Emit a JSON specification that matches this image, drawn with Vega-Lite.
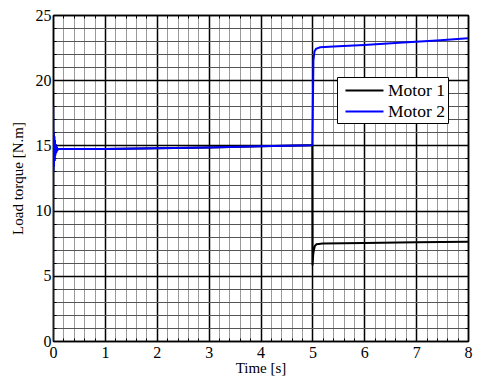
{
  "$schema": "https://vega.github.io/schema/vega-lite/v6.json",
  "width": 415,
  "height": 326,
  "autosize": {"type": "none"},
  "padding": {"left": 53, "top": 15, "right": 10, "bottom": 44},
  "background": "white",
  "config": {
    "font": "Liberation Serif",
    "view": {"stroke": null},
    "axis": {
      "labelFont": "Liberation Serif",
      "labelFontSize": 16,
      "labelColor": "black",
      "titleFont": "Liberation Serif",
      "titleFontSize": 15,
      "titleFontWeight": "normal",
      "titleColor": "black",
      "domainColor": "black",
      "domainWidth": 1.5,
      "tickColor": "black",
      "tickWidth": 1,
      "labelOverlap": false,
      "labelFlush": false
    },
    "legend": {
      "labelFont": "Liberation Serif"
    }
  },
  "data": {
    "values": [
      {"t": 0, "torque": 0, "motor": "Motor 1"},
      {"t": 0.002, "torque": 18.0, "motor": "Motor 1"},
      {"t": 0.006, "torque": 13.0, "motor": "Motor 1"},
      {"t": 0.012, "torque": 16.0, "motor": "Motor 1"},
      {"t": 0.018, "torque": 13.4, "motor": "Motor 1"},
      {"t": 0.024, "torque": 15.7, "motor": "Motor 1"},
      {"t": 0.03, "torque": 13.8, "motor": "Motor 1"},
      {"t": 0.036, "torque": 15.4, "motor": "Motor 1"},
      {"t": 0.042, "torque": 14.2, "motor": "Motor 1"},
      {"t": 0.05, "torque": 15.1, "motor": "Motor 1"},
      {"t": 0.06, "torque": 14.4, "motor": "Motor 1"},
      {"t": 0.07, "torque": 14.9, "motor": "Motor 1"},
      {"t": 0.085, "torque": 14.65, "motor": "Motor 1"},
      {"t": 0.1, "torque": 14.72, "motor": "Motor 1"},
      {"t": 1, "torque": 14.73, "motor": "Motor 1"},
      {"t": 2, "torque": 14.78, "motor": "Motor 1"},
      {"t": 3, "torque": 14.84, "motor": "Motor 1"},
      {"t": 4, "torque": 14.93, "motor": "Motor 1"},
      {"t": 4.98, "torque": 15.02, "motor": "Motor 1"},
      {"t": 5.0, "torque": 15.0, "motor": "Motor 1"},
      {"t": 5.003, "torque": 5.8, "motor": "Motor 1"},
      {"t": 5.015, "torque": 6.6, "motor": "Motor 1"},
      {"t": 5.03, "torque": 7.0, "motor": "Motor 1"},
      {"t": 5.05, "torque": 7.3, "motor": "Motor 1"},
      {"t": 5.08, "torque": 7.42, "motor": "Motor 1"},
      {"t": 5.2, "torque": 7.47, "motor": "Motor 1"},
      {"t": 6, "torque": 7.52, "motor": "Motor 1"},
      {"t": 7, "torque": 7.57, "motor": "Motor 1"},
      {"t": 8, "torque": 7.62, "motor": "Motor 1"},
      {"t": 0, "torque": 0, "motor": "Motor 2"},
      {"t": 0.002, "torque": 18.0, "motor": "Motor 2"},
      {"t": 0.006, "torque": 13.0, "motor": "Motor 2"},
      {"t": 0.012, "torque": 16.0, "motor": "Motor 2"},
      {"t": 0.018, "torque": 13.4, "motor": "Motor 2"},
      {"t": 0.024, "torque": 15.7, "motor": "Motor 2"},
      {"t": 0.03, "torque": 13.8, "motor": "Motor 2"},
      {"t": 0.036, "torque": 15.4, "motor": "Motor 2"},
      {"t": 0.042, "torque": 14.2, "motor": "Motor 2"},
      {"t": 0.05, "torque": 15.1, "motor": "Motor 2"},
      {"t": 0.06, "torque": 14.4, "motor": "Motor 2"},
      {"t": 0.07, "torque": 14.9, "motor": "Motor 2"},
      {"t": 0.085, "torque": 14.65, "motor": "Motor 2"},
      {"t": 0.1, "torque": 14.72, "motor": "Motor 2"},
      {"t": 1, "torque": 14.73, "motor": "Motor 2"},
      {"t": 2, "torque": 14.78, "motor": "Motor 2"},
      {"t": 3, "torque": 14.84, "motor": "Motor 2"},
      {"t": 4, "torque": 14.93, "motor": "Motor 2"},
      {"t": 4.98, "torque": 15.02, "motor": "Motor 2"},
      {"t": 5.0, "torque": 15.05, "motor": "Motor 2"},
      {"t": 5.02, "torque": 21.5, "motor": "Motor 2"},
      {"t": 5.04, "torque": 22.2, "motor": "Motor 2"},
      {"t": 5.07, "torque": 22.4, "motor": "Motor 2"},
      {"t": 5.15, "torque": 22.52, "motor": "Motor 2"},
      {"t": 5.5, "torque": 22.6, "motor": "Motor 2"},
      {"t": 6, "torque": 22.7, "motor": "Motor 2"},
      {"t": 6.75, "torque": 22.9, "motor": "Motor 2"},
      {"t": 7.4, "torque": 23.05, "motor": "Motor 2"},
      {"t": 8, "torque": 23.22, "motor": "Motor 2"}
    ]
  },
  "layer": [
    {
      "mark": {"type": "line", "strokeWidth": 2, "clip": true},
      "encoding": {
        "x": {
          "field": "t",
          "type": "quantitative",
          "scale": {"domain": [0, 8], "nice": false, "zero": false},
          "axis": {
            "title": "Time [s]",
            "titlePadding": 0,
            "labelFont": "Liberation Serif",
            "labelFontSize": 16,
            "values": [0, 0.2, 0.4, 0.6, 0.8, 1, 1.2, 1.4, 1.6, 1.8, 2, 2.2, 2.4, 2.6, 2.8, 3, 3.2, 3.4, 3.6, 3.8, 4, 4.2, 4.4, 4.6, 4.8, 5, 5.2, 5.4, 5.6, 5.8, 6, 6.2, 6.4, 6.6, 6.8, 7, 7.2, 7.4, 7.6, 7.8, 8],
            "labelExpr": "datum.value % 1 === 0 ? format(datum.value, 'd') : ''",
            "grid": true,
            "gridColor": {"expr": "datum.value % 1 === 0 ? '#000000' : '#9a9a9a'"},
            "gridWidth": {"expr": "datum.value % 1 === 0 ? 1.5 : 1"},
            "tickSize": -3,
            "labelPadding": 6
          }
        },
        "y": {
          "field": "torque",
          "type": "quantitative",
          "scale": {"domain": [0, 25], "nice": false},
          "axis": {
            "title": "Load torque [N.m]",
            "titlePadding": 10,
            "labelFont": "Liberation Serif",
            "labelFontSize": 16,
            "values": [0, 1, 2, 3, 4, 5, 6, 7, 8, 9, 10, 11, 12, 13, 14, 15, 16, 17, 18, 19, 20, 21, 22, 23, 24, 25],
            "labelExpr": "datum.value % 5 === 0 ? format(datum.value, 'd') : ''",
            "grid": true,
            "gridColor": {"expr": "datum.value % 5 === 0 ? '#000000' : '#555555'"},
            "gridWidth": {"expr": "datum.value % 5 === 0 ? 1.5 : 1"},
            "tickSize": -3,
            "labelPadding": 5
          }
        },
        "color": {
          "field": "motor",
          "type": "nominal",
          "scale": {"domain": ["Motor 1", "Motor 2"], "range": ["#000000", "#0000ff"]},
          "legend": {
            "title": null,
            "orient": "none",
            "legendX": 284,
            "legendY": 62,
            "direction": "vertical",
            "fillColor": "white",
            "strokeColor": "black",
            "padding": 3,
            "symbolType": "M-0.53,0H3.47",
            "symbolSize": 361,
            "symbolStrokeWidth": 2,
            "labelFont": "Liberation Serif",
            "labelFontSize": 17.5,
            "labelColor": "black",
            "labelOffset": 27,
            "labelExpr": "datum.label + ' '",
            "rowPadding": 2
          }
        }
      }
    },
    {
      "mark": {"type": "point", "opacity": 0},
      "encoding": {
        "x": {
          "field": "t",
          "type": "quantitative",
          "axis": {
            "orient": "top",
            "title": null,
            "labels": false,
            "grid": false,
            "values": [0, 0.2, 0.4, 0.6, 0.8, 1, 1.2, 1.4, 1.6, 1.8, 2, 2.2, 2.4, 2.6, 2.8, 3, 3.2, 3.4, 3.6, 3.8, 4, 4.2, 4.4, 4.6, 4.8, 5, 5.2, 5.4, 5.6, 5.8, 6, 6.2, 6.4, 6.6, 6.8, 7, 7.2, 7.4, 7.6, 7.8, 8],
            "tickSize": -3
          }
        },
        "y": {
          "field": "torque",
          "type": "quantitative",
          "axis": {
            "orient": "right",
            "title": null,
            "labels": false,
            "grid": false,
            "values": [0, 1, 2, 3, 4, 5, 6, 7, 8, 9, 10, 11, 12, 13, 14, 15, 16, 17, 18, 19, 20, 21, 22, 23, 24, 25],
            "tickSize": -3
          }
        }
      }
    }
  ],
  "resolve": {"axis": {"x": "independent", "y": "independent"}}
}
